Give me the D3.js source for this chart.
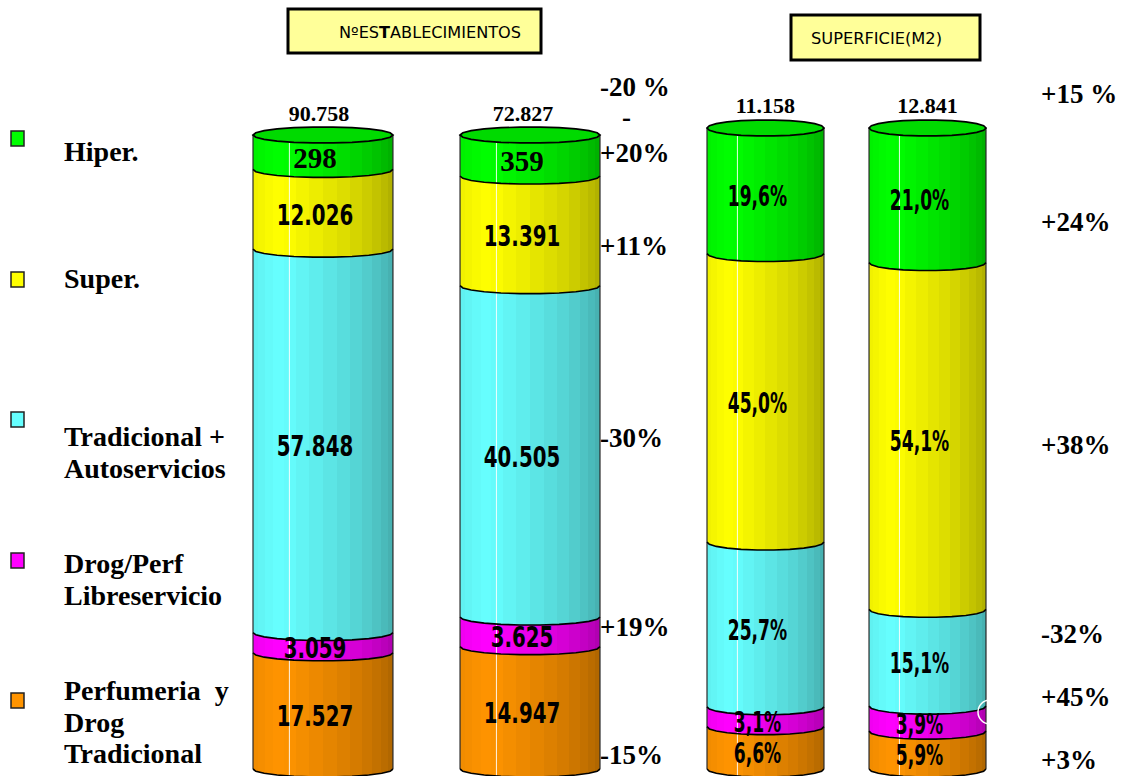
<!DOCTYPE html>
<html>
<head>
<meta charset="utf-8">
<script src="https://cdn.jsdelivr.net/npm/d3@7"></script>
<style>
  html, body { margin: 0; padding: 0; background: #fff; }
  svg { display: block; }
</style>
</head>
<body>
<svg id="chart" width="1121" height="776"></svg>
<script>
// ---- data -------------------------------------------------------------
const formats = ["Hiper.", "Super.", "Tradicional + Autoservicios", "Drog/Perf Libreservicio", "Perfumeria y Drog Tradicional"];
const legendLines = [["Hiper."], ["Super."], ["Tradicional +", "Autoservicios"], ["Drog/Perf", "Libreservicio"], ["Perfumeria  y", "Drog", "Tradicional"]];
const formatColors = ["#00FF00", "#FFFF00", "#66FFFF", "#FF00FF", "#FF9400"];

// Number of outlets per format, earlier and later year
const establecimientosA = [298, 12026, 57848, 3059, 17527];
const establecimientosB = [359, 13391, 40505, 3625, 14947];

// Sales-floor share (%) per format, earlier and later year, and totals
const superficieA = [19.6, 45.0, 25.7, 3.1, 6.6];
const superficieB = [21.0, 54.1, 15.1, 3.9, 5.9];
const superficieTotals = [11158, 12841];

// Year-on-year change labels (total first, then one per format)
const changeEstab = ["-20 %", "+20%", "+11%", "-30%", "+19%", "-15%"];
const changeSuperf = ["+15 %", "+24%", "+38%", "-32%", "+45%", "+3%"];

// ---- layout -----------------------------------------------------------
const W = 1121, H = 776;
const RY = 8;                 // half-height of the cylinder ellipses
const BOTTOM = 769;
const HIPER_UNIT = 52;        // hiper outlets are few, so they get a magnified scale
const changeEstabY = [96, 162, 255, 447, 636, 764];
const changeSuperfY = [103, 231, 454, 643, 706, 769];

const svg = d3.select("#chart");
svg.append("rect").attr("width", W).attr("height", H).attr("fill", "#fff");

const locale = d3.formatLocale({ decimal: ",", thousands: ".", grouping: [3], currency: ["", ""] });
const fmtInt = locale.format(",d");
const fmtPct = locale.format(".1f");

// ---- faceted cylinder shading ----------------------------------------
const defs = svg.append("defs");
const FACETS = 16;
function shade(theta) {
  const peak = 0.93;
  if (theta < peak) return 0.92 + 0.08 * (theta / peak);
  return 1 - 0.36 * Math.pow((theta - peak) / (Math.PI - peak), 1.15);
}
formatColors.forEach((c, i) => {
  const base = d3.rgb(c);
  const g = defs.append("linearGradient").attr("id", "grad" + i)
    .attr("x1", 0).attr("x2", 1).attr("y1", 0).attr("y2", 0);
  for (let k = 0; k < FACETS; k++) {
    const a0 = k / FACETS * Math.PI, a1 = (k + 1) / FACETS * Math.PI;
    const t0 = (1 - Math.cos(a0)) / 2, t1 = (1 - Math.cos(a1)) / 2;
    const f = shade((a0 + a1) / 2);
    const col = d3.rgb(base.r * f, base.g * f, base.b * f).formatHex();
    g.append("stop").attr("offset", t0).attr("stop-color", col);
    g.append("stop").attr("offset", t1).attr("stop-color", col);
  }
});

const ARC_STEPS = 11;
function frontArc(x0, x1, cy) {
  const cx = (x0 + x1) / 2, rx = (x1 - x0) / 2;
  return d3.range(ARC_STEPS + 1).map(k => {
    const a = k / ARC_STEPS * Math.PI;
    return [cx - rx * Math.cos(a), cy + RY * Math.sin(a)];
  });
}
function backArc(x0, x1, cy) {
  const cx = (x0 + x1) / 2, rx = (x1 - x0) / 2;
  return d3.range(ARC_STEPS + 1).map(k => {
    const a = k / ARC_STEPS * Math.PI;
    return [cx + rx * Math.cos(a), cy - RY * Math.sin(a)];
  });
}
const line = d3.line();

// ---- bars -------------------------------------------------------------
function drawCylinder(x0, width, displayValues, labels, yScale, labelStyle) {
  const x1 = x0 + width;
  const cx = x0 + width / 2;
  const g = svg.append("g");
  // stack from the bottom: last legend entry first
  const order = [4, 3, 2, 1, 0];
  let acc = 0;
  const segs = order.map(i => {
    const s = { i, lo: acc, hi: acc + displayValues[i] };
    acc = s.hi;
    return s;
  });
  segs.forEach(s => {
    const yBot = yScale(s.lo), yTop = yScale(s.hi);
    const pts = frontArc(x0, x1, yTop).concat(frontArc(x0, x1, yBot).reverse());
    g.append("path").attr("d", line(pts) + "Z")
      .attr("fill", `url(#grad${s.i})`);
  });
  // highlight line
  const topY = yScale(acc);
  g.append("line")
    .attr("x1", x0 + width * 0.26).attr("x2", x0 + width * 0.26)
    .attr("y1", topY + RY).attr("y2", BOTTOM + RY)
    .attr("stroke", "#ffffff").attr("stroke-width", 1).attr("opacity", 0.9);
  // side edges
  [x0, x1].forEach(x => g.append("line")
    .attr("x1", x).attr("x2", x).attr("y1", topY).attr("y2", BOTTOM)
    .attr("stroke", "#2a2a2a").attr("stroke-width", 1.2));
  // segment boundaries
  segs.forEach(s => {
    g.append("path").attr("d", line(frontArc(x0, x1, yScale(s.lo))))
      .attr("fill", "none").attr("stroke", "#000").attr("stroke-width", 1.6);
  });
  // top face
  const cap = frontArc(x0, x1, topY).concat(backArc(x0, x1, topY).slice(1));
  g.append("path").attr("d", line(cap) + "Z")
    .attr("fill", "#00DA00").attr("stroke", "#000").attr("stroke-width", 1.7);
  // labels
  segs.forEach(s => {
    const yc = (yScale(s.lo) + yScale(s.hi)) / 2 + 5;
    const st = labelStyle(s.i);
    g.append("text")
      .attr("transform", `translate(${cx - 8},${yc + st.size * 0.36}) scale(${st.sx},1)`)
      .attr("text-anchor", "middle")
      .attr("font-family", st.family)
      .attr("font-weight", "bold")
      .attr("font-size", st.size)
      .attr("fill", "#000")
      .text(labels[s.i]);
  });
  return { cx, topY };
}

const sansLabel = { family: "'DejaVu Sans Condensed', 'DejaVu Sans', sans-serif", size: 29, sx: 0.76 };
const pctLabel = { family: "'DejaVu Sans Condensed', 'DejaVu Sans', sans-serif", size: 28, sx: 0.68 };
const serifLabel = { family: "'Liberation Serif', 'Times New Roman', serif", size: 29, sx: 1 };

const xEstab = d3.scaleBand().domain([0, 1]).range([253, 600]).paddingInner(0.324).paddingOuter(0);
const xSuperf = d3.scaleBand().domain([0, 1]).range([707, 986]).paddingInner(0.278).paddingOuter(0);

[establecimientosA, establecimientosB].forEach((vals, b) => {
  const total = d3.sum(vals);
  const display = vals.map((v, i) => i === 0 ? v / HIPER_UNIT : v / total * 100);
  const y = d3.scaleLinear().domain([0, d3.sum(display)]).range([BOTTOM, 135]);
  const info = drawCylinder(xEstab(b), xEstab.bandwidth(), display, vals.map(fmtInt), y,
    i => i === 0 ? serifLabel : sansLabel);
  svg.append("text")
    .attr("x", info.cx - 4 - 3 * b).attr("y", 121)
    .attr("text-anchor", "middle")
    .attr("font-family", "'Liberation Serif', 'Times New Roman', serif")
    .attr("font-weight", "bold").attr("font-size", 22)
    .text(fmtInt(total));
});

[superficieA, superficieB].forEach((vals, b) => {
  const y = d3.scaleLinear().domain([0, 100]).range([BOTTOM, 128]);
  const info = drawCylinder(xSuperf(b), xSuperf.bandwidth(), vals, vals.map(v => fmtPct(v) + "%"), y,
    () => pctLabel);
  svg.append("text")
    .attr("x", info.cx).attr("y", 113)
    .attr("text-anchor", "middle")
    .attr("font-family", "'Liberation Serif', 'Times New Roman', serif")
    .attr("font-weight", "bold").attr("font-size", 22)
    .text(fmtInt(superficieTotals[b]));
});

// small stray ring at the edge of the last bar
svg.append("circle").attr("cx", 990).attr("cy", 712).attr("r", 12)
  .attr("fill", "none").attr("stroke", "#fff").attr("stroke-width", 1.5);

// ---- title boxes --------------------------------------------------------
function titleBox(x, y, w, h, tx, ty, parts, len) {
  svg.append("rect").attr("x", x).attr("y", y).attr("width", w).attr("height", h)
    .attr("fill", "#FFFF99").attr("stroke", "#000").attr("stroke-width", 3);
  const t = svg.append("text").attr("x", tx).attr("y", ty)
    .attr("font-family", "'DejaVu Sans', Verdana, sans-serif")
    .attr("font-size", 16).attr("fill", "#000")
    .attr("textLength", len).attr("lengthAdjust", "spacingAndGlyphs");
  parts.forEach(p => t.append("tspan").attr("font-weight", p.bold ? "bold" : "normal").text(p.text));
}
titleBox(288, 9, 253, 44, 339, 38,
  [{ text: "NºES" }, { text: "T", bold: true }, { text: "ABLECIMIENTOS" }], 182);
titleBox(791, 15, 189, 45, 811, 44, [{ text: "SUPERFICIE(M2)" }], 131);

// ---- change labels ------------------------------------------------------
const serif = "'Liberation Serif', 'Times New Roman', serif";
changeEstab.forEach((t, i) => svg.append("text")
  .attr("x", 600).attr("y", changeEstabY[i])
  .attr("font-family", serif).attr("font-weight", "bold").attr("font-size", 27)
  .text(t));
svg.append("text").attr("x", 622).attr("y", 126)
  .attr("font-family", serif).attr("font-weight", "bold").attr("font-size", 27).text("-");
changeSuperf.forEach((t, i) => svg.append("text")
  .attr("x", 1041).attr("y", changeSuperfY[i])
  .attr("font-family", serif).attr("font-weight", "bold").attr("font-size", 27)
  .text(t));

// ---- legend -----------------------------------------------------------
const legendBoxY = [131, 272, 412, 553, 693];
const legendTextY = [161, 288, 446, 573, 700];
legendLines.forEach((lines, i) => {
  svg.append("rect").attr("x", 11).attr("y", legendBoxY[i]).attr("width", 13).attr("height", 15)
    .attr("fill", formatColors[i]).attr("stroke", "#222").attr("stroke-width", 1.5);
  const t = svg.append("text")
    .attr("font-family", serif).attr("font-weight", "bold").attr("font-size", 28)
    .attr("xml:space", "preserve");
  lines.forEach((l, k) => t.append("tspan").attr("x", 64).attr("y", legendTextY[i] + k * 31.5).text(l));
});
</script>
</body>
</html>
